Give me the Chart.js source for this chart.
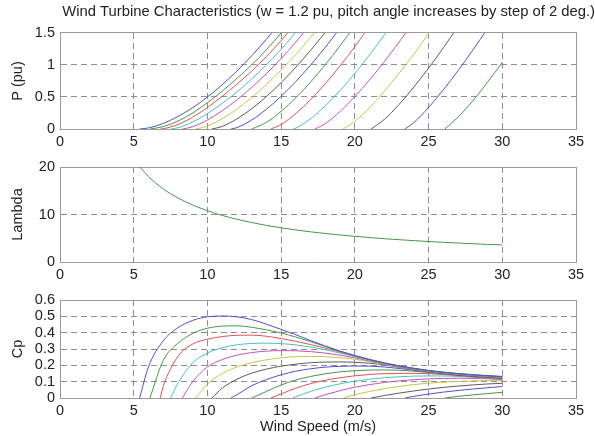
<!DOCTYPE html>
<html>
<head>
<meta charset="utf-8">
<script src="https://cdn.jsdelivr.net/npm/chart.js@4.4.1/dist/chart.umd.min.js"></script>
<style>
  body { margin: 0; background: #fff; }
  #wrap { position: relative; width: 595px; height: 436px; }
  canvas { position: absolute; left: 0; }
</style>
</head>
<body>
<div id="wrap">
  <canvas id="powerChart" width="595" height="150" style="top:0"></canvas>
  <canvas id="lambdaChart" width="595" height="130" style="top:150px"></canvas>
  <canvas id="cpChart" width="595" height="156" style="top:280px"></canvas>
</div>
<script>
// pitch angle of each curve (deg) and the wind speed where it leaves zero
const pitchAngles = [0, 2, 4, 6, 8, 10, 12, 14, 16, 18, 20, 22, 24, 26, 28, 30];
const startSpeeds = [5.4, 6.1, 6.8, 7.5, 8.3, 9.2, 10.3, 11.6, 13.0, 14.3, 15.8, 17.3, 19.2, 21.1, 23.4, 26.1];

// P (pu), one value per whole m/s after the start speed
const powerCurves = [
    [0.017, 0.087, 0.195, 0.333, 0.499, 0.691, 0.906, 1.143, 1.402, 1.681],
    [0.037, 0.123, 0.25, 0.41, 0.59, 0.79, 1.0, 1.237, 1.5, 1.78],
    [0.004, 0.07, 0.185, 0.335, 0.51, 0.7, 0.905, 1.13, 1.38, 1.658],
    [0.02, 0.11, 0.24, 0.4, 0.58, 0.78, 1.0, 1.245, 1.514, 1.8],
    [0.035, 0.14, 0.285, 0.455, 0.65, 0.865, 1.1, 1.358, 1.638],
    [0.045, 0.16, 0.31, 0.49, 0.695, 0.92, 1.164, 1.434, 1.72],
    [0.04, 0.158, 0.316, 0.506, 0.724, 0.966, 1.23, 1.512, 1.81],
    [0.022, 0.14, 0.308, 0.511, 0.743, 0.999, 1.278, 1.576],
    [0.104, 0.276, 0.489, 0.734, 1.005, 1.3, 1.616],
    [0.071, 0.242, 0.459, 0.709, 0.986, 1.287, 1.608],
    [0.014, 0.16, 0.363, 0.601, 0.868, 1.158, 1.468, 1.796],
    [0.085, 0.275, 0.506, 0.767, 1.052, 1.357, 1.679],
    [0.12, 0.335, 0.59, 0.87, 1.17, 1.49, 1.82],
    [0.15, 0.384, 0.655, 0.951, 1.268, 1.602],
    [0.1, 0.336, 0.611, 0.911, 1.232, 1.569],
    [0.185, 0.44, 0.73, 1.04]
];

// Cp, one value per whole m/s after the start speed, up to 30 m/s
const cpCurves = [
    [0.19, 0.35, 0.43, 0.475, 0.497, 0.502, 0.497, 0.48, 0.452, 0.42, 0.387, 0.352, 0.318, 0.287, 0.26, 0.236, 0.215, 0.197, 0.182, 0.169, 0.158, 0.15, 0.143, 0.137, 0.132],
    [0.23, 0.335, 0.395, 0.427, 0.44, 0.442, 0.433, 0.417, 0.398, 0.373, 0.345, 0.315, 0.286, 0.259, 0.235, 0.214, 0.196, 0.181, 0.168, 0.158, 0.149, 0.142, 0.136, 0.131],
    [0.07, 0.255, 0.33, 0.36, 0.376, 0.384, 0.385, 0.378, 0.364, 0.347, 0.327, 0.305, 0.281, 0.257, 0.234, 0.213, 0.195, 0.18, 0.167, 0.157, 0.148, 0.141, 0.135, 0.129],
    [0.09, 0.215, 0.275, 0.308, 0.326, 0.334, 0.336, 0.333, 0.325, 0.312, 0.295, 0.275, 0.253, 0.231, 0.211, 0.194, 0.179, 0.166, 0.156, 0.147, 0.14, 0.134, 0.128],
    [0.1, 0.19, 0.235, 0.262, 0.278, 0.287, 0.29, 0.289, 0.284, 0.275, 0.262, 0.246, 0.227, 0.209, 0.192, 0.177, 0.165, 0.155, 0.146, 0.139, 0.133, 0.127],
    [0.085, 0.15, 0.19, 0.216, 0.234, 0.246, 0.253, 0.255, 0.253, 0.247, 0.237, 0.222, 0.206, 0.19, 0.176, 0.164, 0.154, 0.145, 0.138, 0.132, 0.126],
    [0.06, 0.115, 0.152, 0.177, 0.195, 0.207, 0.216, 0.22, 0.221, 0.219, 0.213, 0.203, 0.188, 0.174, 0.162, 0.152, 0.143, 0.136, 0.13, 0.124],
    [0.02, 0.075, 0.113, 0.142, 0.164, 0.179, 0.189, 0.194, 0.196, 0.195, 0.19, 0.181, 0.17, 0.16, 0.15, 0.141, 0.134, 0.128, 0.122],
    [0.04, 0.08, 0.11, 0.132, 0.148, 0.16, 0.167, 0.171, 0.172, 0.17, 0.164, 0.156, 0.147, 0.139, 0.132, 0.126, 0.12],
    [0.025, 0.06, 0.088, 0.109, 0.124, 0.136, 0.144, 0.149, 0.151, 0.151, 0.149, 0.144, 0.137, 0.13, 0.124, 0.118],
    [0.008, 0.04, 0.066, 0.087, 0.103, 0.115, 0.124, 0.13, 0.134, 0.135, 0.135, 0.132, 0.127, 0.122, 0.116],
    [0.02, 0.045, 0.066, 0.082, 0.095, 0.105, 0.112, 0.117, 0.12, 0.121, 0.12, 0.117, 0.113],
    [0.02, 0.04, 0.057, 0.071, 0.082, 0.091, 0.097, 0.102, 0.105, 0.106, 0.106],
    [0.015, 0.03, 0.043, 0.055, 0.065, 0.073, 0.08, 0.086, 0.09],
    [0.01, 0.024, 0.036, 0.046, 0.055, 0.063, 0.07],
    [0.01, 0.019, 0.027, 0.035]
];

// tip speed ratio against wind speed
const lambdaSpeeds = [5, 6, 7, 8, 9, 10, 11, 12, 13, 14, 15, 16, 17, 18, 19, 20, 21, 22, 23, 24, 25, 26, 27, 28, 29, 30];
const lambdaValues = [21.6, 18, 15.4, 13.5, 12, 10.8, 9.8, 9, 8.3, 7.7, 7.2, 6.75, 6.35, 6, 5.7, 5.4, 5.15, 4.9, 4.7, 4.5, 4.3, 4.15, 4.0, 3.85, 3.7, 3.6];

const titleText = 'Wind Turbine Characteristics (w = 1.2 pu, pitch angle increases by step of 2 deg.)';

// matlab style colour order b g r c m y k
const lineColors = ['#5050d2', '#42984a', '#e25050', '#46c0c4', '#c250c2', '#c6c446', '#5a5a5a'];
const gridColor = '#8e8e8e';
const frameColor = '#9a9a9a';
const fontSize = 14.5;

Chart.defaults.font.family = '"Liberation Sans", Arial, Helvetica, sans-serif';
Chart.defaults.font.size = fontSize;
Chart.defaults.color = '#222';

function curvePoints(start, values) {
    const first = Math.floor(start) + 1;
    return [{x: start, y: 0}].concat(values.map((v, j) => ({x: first + j, y: v})));
}

function lineDataset(points, color) {
    return {
        data: points,
        borderColor: color,
        borderWidth: 1,
        pointRadius: 0,
        fill: false,
        cubicInterpolationMode: 'monotone',
    };
}

function makeOptions(cfg) {
    return {
        responsive: false,
        animation: false,
        events: [],
        layout: {padding: {top: cfg.padTop, left: 0, right: 0, bottom: 0}},
        plugins: {
            legend: {display: false},
            tooltip: {enabled: false},
            title: cfg.title ? {
                display: true,
                text: cfg.title,
                align: 'end',
                color: '#222',
                font: {size: 14.8, weight: 'normal'},
                padding: {top: 3, bottom: 12.2},
            } : {display: false},
        },
        scales: {
            x: {
                type: 'linear',
                min: 0,
                max: 35,
                ticks: {stepSize: 5, padding: 4},
                grid: {color: gridColor, drawTicks: false},
                border: {color: frameColor, dash: [6, 4]},
                title: cfg.xTitle ? {display: true, text: cfg.xTitle, padding: {top: 0, bottom: 0}} : {display: false},
                afterFit: s => { s.height = cfg.xHeight; },
            },
            y: {
                min: cfg.yMin,
                max: cfg.yMax,
                ticks: {stepSize: cfg.yStep, padding: 5, autoSkip: false, callback: v => String(+v.toFixed(2))},
                grid: {color: gridColor, drawTicks: false},
                border: {color: frameColor, dash: [6, 4]},
                title: {display: true, text: cfg.yTitle, padding: {top: 9, bottom: 0}},
                afterFit: s => { s.width = 60; },
            },
            // top and right edges of the box
            x2: {
                type: 'linear', position: 'top', min: 0, max: 35,
                ticks: {display: false}, grid: {display: false},
                border: {color: frameColor},
                afterFit: s => { s.height = 0; },
            },
            y2: {
                type: 'linear', position: 'right', min: 0, max: 1,
                ticks: {display: false}, grid: {display: false},
                border: {color: frameColor},
                afterFit: s => { s.width = 19; },
            },
        },
    };
}

new Chart(document.getElementById('powerChart'), {
    type: 'line',
    data: {
        datasets: pitchAngles.map((b, i) =>
            lineDataset(curvePoints(startSpeeds[i], powerCurves[i]), lineColors[i % 7])),
    },
    options: makeOptions({title: titleText, padTop: 0, xHeight: 21, yMin: 0, yMax: 1.5, yStep: 0.5, yTitle: 'P (pu)'}),
});

new Chart(document.getElementById('lambdaChart'), {
    type: 'line',
    data: {
        datasets: [lineDataset(lambdaSpeeds.map((v, i) => ({x: v, y: lambdaValues[i]})), '#42984a')],
    },
    options: makeOptions({padTop: 17, xHeight: 18, yMin: 0, yMax: 20, yStep: 10, yTitle: 'Lambda'}),
});

new Chart(document.getElementById('cpChart'), {
    type: 'line',
    data: {
        datasets: pitchAngles.map((b, i) =>
            lineDataset(curvePoints(startSpeeds[i], cpCurves[i]), lineColors[i % 7])),
    },
    options: makeOptions({padTop: 20, xHeight: 38, xTitle: 'Wind Speed (m/s)', yMin: 0, yMax: 0.6, yStep: 0.1, yTitle: 'Cp'}),
});
</script>
</body>
</html>
